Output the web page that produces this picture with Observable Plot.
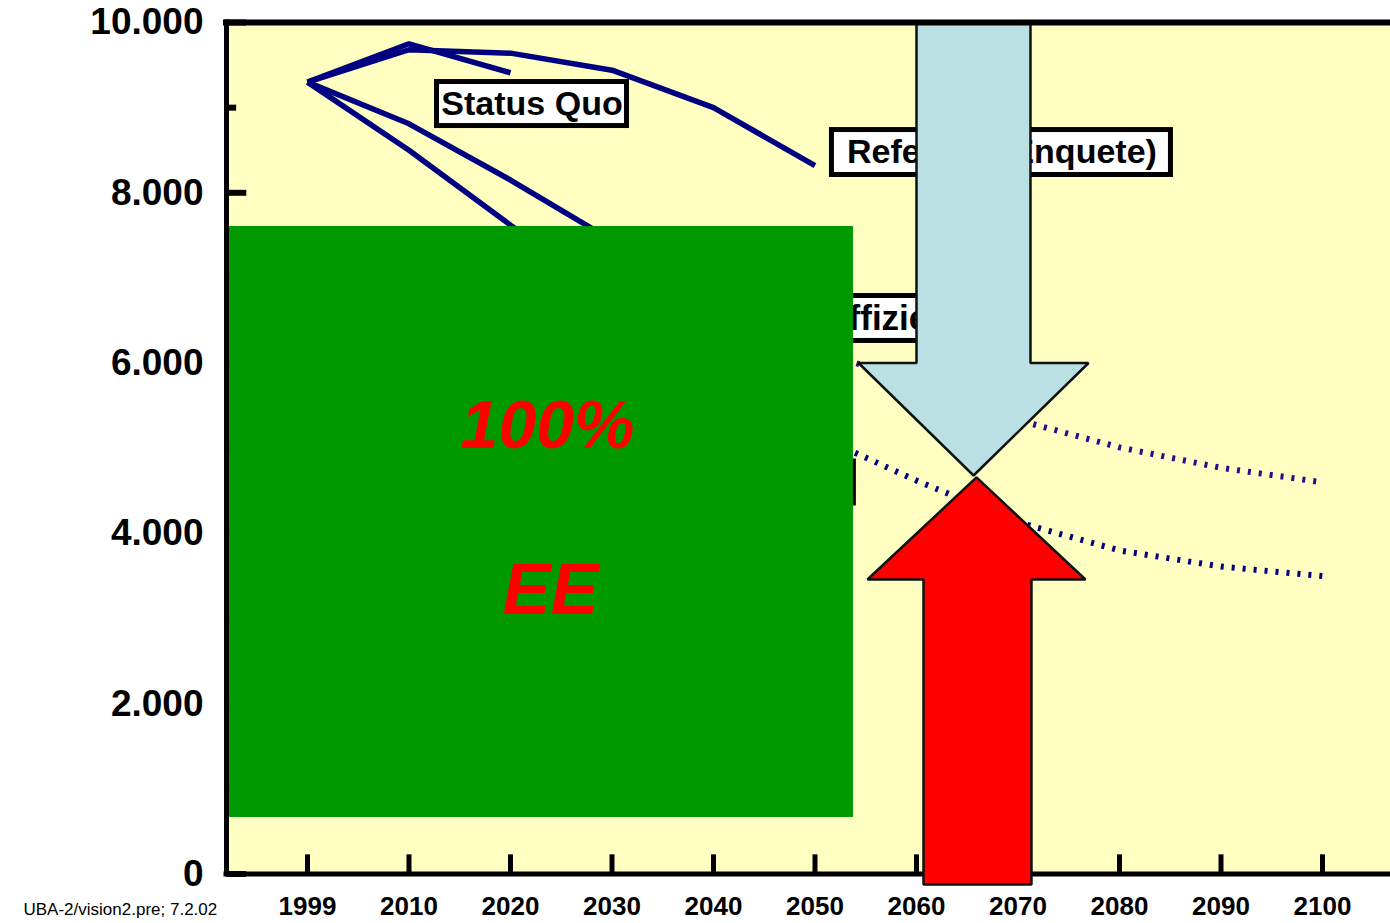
<!DOCTYPE html>
<html><head><meta charset="utf-8">
<script src="https://cdn.jsdelivr.net/npm/d3@7"></script>
<script src="https://cdn.jsdelivr.net/npm/@observablehq/plot@0.6"></script>
<style>
body{margin:0;background:#fff;overflow:hidden}
#chart svg{display:block}
</style>
</head><body><div id="chart"></div>
<script>
// ---- data ----
const years = ["1999","2010","2020","2030","2040","2050","2060","2070","2080","2090","2100"];
const statusQuo  = [9300, 9750, 9410];
const referenz   = [9300, 9680, 9640, 9440, 9000, 8320];
const effizienz  = [9300, 8810, 8150, 7440, 6800, 6170, 5750, 5330, 5010, 4770, 4600];
const nachhaltig = [9300, 8500, 7620, 6800, 5950, 5160, 4620, 4130, 3800, 3610, 3500];
const dottedFrom = 5; // index from which the scenarios are drawn dotted
const yTicks      = [0, 2000, 4000, 6000, 8000, 10000];
const yTickLabels = ["0", "2.000", "4.000", "6.000", "8.000", "10.000"];
const yMinorTicks = [1000, 3000, 5000, 7000, 9000];
const caption = "UBA-2/vision2.pre; 7.2.02";

// ---- annotations (in data units: x = year index, y = value) ----
const labelTexts = ["Status Quo", "Referenz (Enquete)", "Effizienz"];
const labelX = [2.212, 6.842, 5.80];
const labelY = [9043, 8473, 6524];
const labelSize = [34, 34, 35];
const labelBoxes = [
  {x1: 1.276, x2: 3.148, y1: 8784, y2: 9301},
  {x1: 5.167, x2: 8.507, y1: 8209, y2: 8737},
  {x1: 5.034, x2: 6.640, y1: 6260, y2: 6788},
  {x1: 2.900, x2: 5.383, y1: 4351, y2: 4844}
];
const greenBox = [{x1: -0.768, x2: 5.379, y1: 664, y2: 7604}];
const bigTexts = ["100%", "EE"];
const bigX = [2.365, 2.394];
const bigY = [5255, 3329];
const bigSize = [68, 72];
const blueArrowX = [6.000, 6.000, 5.429, 6.562, 7.695, 7.123, 7.123];
const blueArrowY = [10000, 6001, 6001, 4680, 6001, 6001, 10000];
const redArrowX  = [6.069, 6.069, 5.517, 6.591, 7.665, 7.133, 7.133];
const redArrowY  = [-123, 3459, 3459, 4657, 3459, 3459, -123];
const xDomain = [-0.798, 10.670];

const FONT = "Arial, 'Liberation Sans', Helvetica, sans-serif";
const pts = (arr, from = 0, to = arr.length) =>
  arr.map((v, i) => ({i, v})).slice(from, to);
const poly = (xs, ys) => xs.map((x, k) => ({x, y: ys[k]}));

const lineStyle = {x: "i", y: "v", stroke: "#000080", strokeWidth: 5.5, strokeLinejoin: "miter", strokeLinecap: "butt"};
const dotStyle = (c) => ({x: "i", y: "v", stroke: c, strokeWidth: 6, strokeDasharray: "3,8", strokeLinecap: "butt"});

const chart = Plot.plot({
  width: 1390, height: 923,
  marginLeft: 226, marginRight: 0, marginTop: 22, marginBottom: 49.5,
  x: {domain: xDomain, axis: null},
  y: {domain: [0, 10000], axis: null},
  style: {fontFamily: FONT, background: "white", overflow: "visible"},
  marks: [
    Plot.frame({fill: "#FFFFC2", stroke: null}),
    // ticks (inward)
    Plot.ruleY(yTicks, {y: d => d, x1: xDomain[0], x2: xDomain[0] + 0.2, stroke: "black", strokeWidth: 6}),
    Plot.ruleY(yMinorTicks, {y: d => d, x1: xDomain[0], x2: xDomain[0] + 0.1, stroke: "black", strokeWidth: 6}),
    Plot.ruleX(years, {x: (d, i) => i, y1: 0, y2: 225, stroke: "black", strokeWidth: 5}),
    // scenario lines
    Plot.line(pts(statusQuo), lineStyle),
    Plot.line(pts(referenz), lineStyle),
    Plot.line(pts(effizienz, 0, dottedFrom + 1), lineStyle),
    Plot.line(pts(nachhaltig, 0, dottedFrom + 1), lineStyle),
    Plot.line(pts(effizienz, dottedFrom), dotStyle("#34068c")),
    Plot.line(pts(nachhaltig, dottedFrom), dotStyle("#000080")),
    // label boxes
    Plot.rect(labelBoxes, {x1: "x1", x2: "x2", y1: "y1", y2: "y2", fill: "white", stroke: "black", strokeWidth: 5}),
    Plot.text(labelTexts, {x: (d, i) => labelX[i], y: (d, i) => labelY[i], text: d => d,
      fontSize: (d, i) => labelSize[i], fontWeight: "bold", fill: "black"}),
    // green block
    Plot.rect(greenBox, {x1: "x1", x2: "x2", y1: "y1", y2: "y2", fill: "#009900"}),
    Plot.text(bigTexts, {x: (d, i) => bigX[i], y: (d, i) => bigY[i], text: d => d,
      fontSize: (d, i) => bigSize[i], fontWeight: "bold", fontStyle: "italic", fill: "#FF0000"}),
    // blue arrow (down)
    Plot.line(poly(blueArrowX, blueArrowY), {x: "x", y: "y", curve: "linear-closed",
      fill: "#BBE0E3", stroke: "#111", strokeWidth: 2.5, strokeLinejoin: "miter"}),
    // frame lines
    Plot.ruleY([10000], {stroke: "black", strokeWidth: 6, strokeLinecap: "square"}),
    Plot.ruleX([xDomain[0]], {stroke: "black", strokeWidth: 5, strokeLinecap: "square"}),
    Plot.ruleY([0], {stroke: "black", strokeWidth: 5, strokeLinecap: "square"}),
    // red arrow (up)
    Plot.line(poly(redArrowX, redArrowY), {x: "x", y: "y", curve: "linear-closed",
      fill: "#FF0000", stroke: "#111", strokeWidth: 2.5, strokeLinejoin: "miter"}),
    // axis labels
    Plot.text(yTicks, {x: xDomain[0], y: d => d, text: (d, i) => yTickLabels[i], textAnchor: "end",
      dx: -23, fontSize: 37, fontWeight: "bold", fill: "black"}),
    Plot.text(years, {x: (d, i) => i, y: 0, text: d => d, dy: 33, fontSize: 26, fontWeight: "bold", fill: "black"}),
    Plot.text([caption], {frameAnchor: "bottom-left", text: d => d, textAnchor: "start",
      dx: -203, dy: 41, fontSize: 17, fill: "black"})
  ]
});
document.getElementById("chart").appendChild(chart);
</script>
</body></html>
